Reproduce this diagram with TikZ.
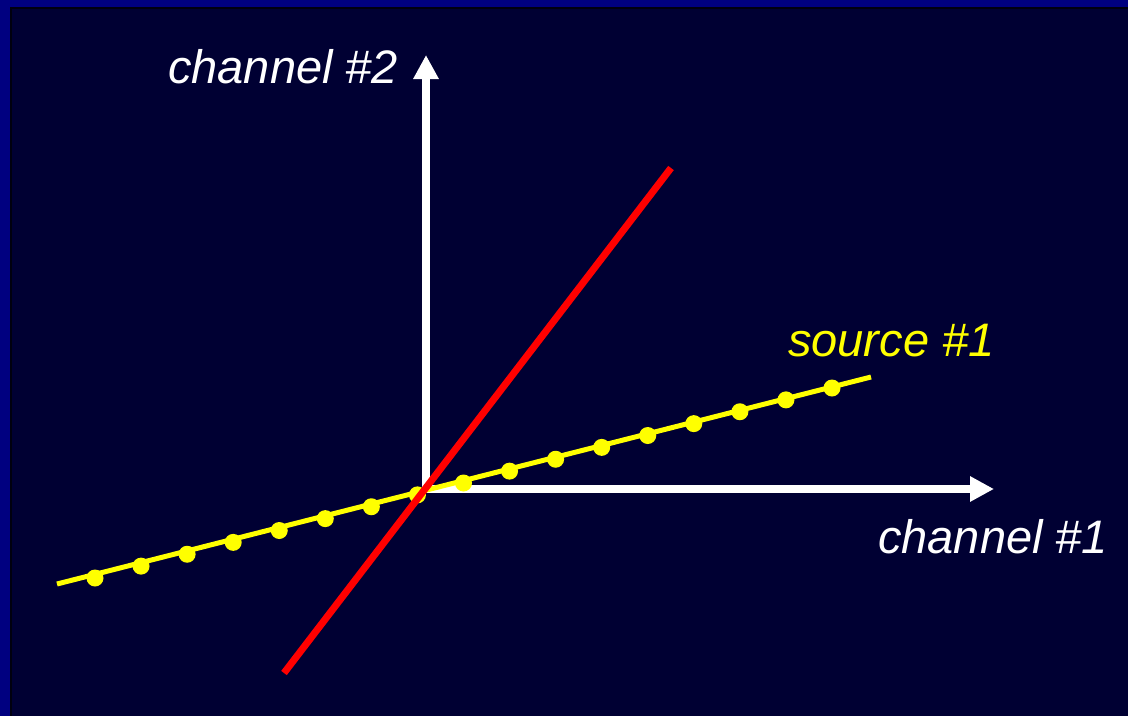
\documentclass[tikz,border=0pt]{standalone}
\usepackage{fontspec}
\setmainfont{Liberation Sans}
\usetikzlibrary{arrows.meta,calc}
\definecolor{myframe}{HTML}{000080}
\definecolor{mynavy}{HTML}{000033}
\definecolor{myshadow}{HTML}{00000F}
\definecolor{myyellow}{HTML}{FFFF00}
\definecolor{myred}{HTML}{FF0000}

\begin{document}
\begin{tikzpicture}[
    x=1pt, y=-1pt,
    every node/.style={font=\itshape\fontsize{47}{56}\selectfont, inner sep=0pt},
    axis/.style={draw=white, line width=8pt, -{Triangle[length=24pt, width=24pt]}},
    srcline/.style={draw=myyellow, line width=5pt},
    mixline/.style={draw=myred, line width=7pt},
    dot/.style={circle, fill=myyellow, minimum size=17pt, inner sep=0pt},
    lab/.style={anchor=base west, text=white}
  ]
  \useasboundingbox (0,0) rectangle (1128,716);
  \fill[myframe] (0,0) rectangle (1128,716);
  \fill[myshadow] (10,7) rectangle (1128,716);
  \fill[mynavy] (12,9) rectangle (1128,716);
  % axes
  \coordinate (o) at (426,489);
  \coordinate (xend) at (994,489);
  \coordinate (yend) at (426,55);
  \draw[axis] (o) -- (xend);
  \draw[axis] (o) -- (yend);
  \node[lab] (ch2) at (168,83) {channel \#2};
  \node[lab] (ch1) at (878,553) {channel \#1};
  % source line with samples
  \coordinate (s0) at (57,584);
  \coordinate (s1) at (871,377);
  \draw[srcline] (s0) -- (s1);
  \coordinate (d0) at (95,578);
  \coordinate (d16) at (832,388);
  \foreach \i in {0,...,16}
    \node[dot] (p\i) at ($(d0)!\i/16!(d16)$) {};
  \node[lab, text=myyellow] (src) at (788,356) {source \#1};
  % red line
  \coordinate (r0) at (284,673);
  \coordinate (r1) at (671,168);
  \draw[mixline] (r0) -- (r1);
\end{tikzpicture}
\end{document}
